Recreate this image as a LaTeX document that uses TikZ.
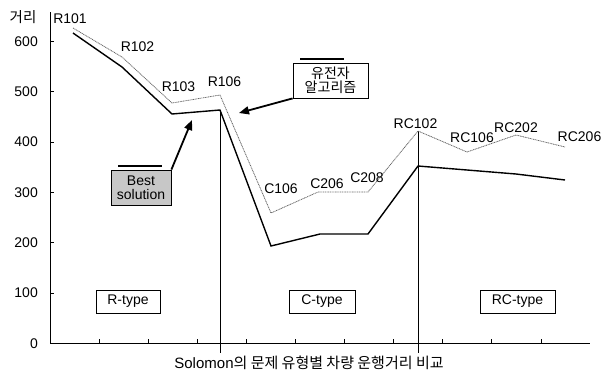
\documentclass[tikz,border=0pt]{standalone}
\usepackage{fontspec}
\setmainfont{Liberation Sans}
\newfontfamily\kr{Noto Sans CJK KR}
\usetikzlibrary{arrows.meta}
\begin{document}
\begin{tikzpicture}[x=1pt,y=-1pt,
  font=\fontsize{14}{16}\selectfont,
  axisline/.style={line width=1pt},
  divline/.style={line width=0.8pt},
  bestline/.style={line width=1.4pt, line join=miter},
  galine/.style={line width=0.8pt, draw=black!60, dash pattern=on 1pt off 0.7pt},
  typebox/.style={draw, line width=0.8pt, minimum height=23pt, inner sep=0pt},
  notebox/.style={draw, line width=0.8pt, minimum height=35pt, inner sep=0pt, align=center},
  ptlabel/.style={inner sep=0pt},
  ticklabel/.style={anchor=east, inner sep=0pt},
  bar/.style={line width=1.3pt},
  callout/.style={line width=1.8pt, -{Triangle[length=10pt,width=8pt]}}
]
\useasboundingbox (0,0) rectangle (602,378);

% axes
\coordinate (ytop) at (50,12);
\coordinate (origin) at (50,343.3);
\coordinate (xend) at (590,343.3);
\draw[axisline] (ytop) -- (origin) -- (xend);

% y ticks and labels
\foreach \v/\name in {0/t0,100/t1,200/t2,300/t3,400/t4,500/t5,600/t6}{
  \coordinate (\name) at (50,{343.3-0.503*\v});
  \draw[axisline] (\name) -- ++(4,0);
  \node[ticklabel] (\name lab) at (38,{343.3-0.503*\v}) {\v};
}
\node[inner sep=0pt] (ylabel) at (23,17) {\kr\fontsize{14.5}{16}\selectfont 거리};

% x ticks
\foreach \k in {1,...,10}{
  \coordinate (xt\k) at ({50+49.1*\k},343.3);
  \draw[axisline] (xt\k) -- ++(0,-4);
}

% data points: genetic algorithm (dotted)
\coordinate (g1) at (73,28);
\coordinate (g2) at (122,57);
\coordinate (g3) at (172,103);
\coordinate (g4) at (220,95);
\coordinate (g5) at (271,213);
\coordinate (g6) at (318,192);
\coordinate (g7) at (368,192);
\coordinate (g8) at (418,131);
\coordinate (g9) at (467,152);
\coordinate (g10) at (516,135);
\coordinate (g11) at (565,147);
% data points: best solution (solid)
\coordinate (b1) at (73,33);
\coordinate (b2) at (122,67);
\coordinate (b3) at (172,114);
\coordinate (b4) at (220,110);
\coordinate (b5) at (271,246);
\coordinate (b6) at (320,234);
\coordinate (b7) at (368,234);
\coordinate (b8) at (418,166);
\coordinate (b9) at (467,170);
\coordinate (b10) at (516,174);
\coordinate (b11) at (565,180);

% dividers
\coordinate (d1) at (220,353);
\coordinate (d2) at (418,353);
\draw[divline] (b4) -- (d1);
\draw[divline] (g8) -- (d2);

\draw[galine] (g1) -- (g2) -- (g3) -- (g4) -- (g5) -- (g6) -- (g7) -- (g8) -- (g9) -- (g10) -- (g11);
\draw[bestline] (b1) -- (b2) -- (b3) -- (b4) -- (b5) -- (b6) -- (b7) -- (b8) -- (b9) -- (b10) -- (b11);

% point labels
\node[ptlabel] (lR101) at (70,19) {R101};
\node[ptlabel] (lR102) at (137.5,47) {R102};
\node[ptlabel] (lR103) at (178.5,87) {R103};
\node[ptlabel] (lR106) at (224.5,82) {R106};
\node[ptlabel] (lC106) at (281,189) {C106};
\node[ptlabel] (lC206) at (327,184) {C206};
\node[ptlabel] (lC208) at (367,178) {C208};
\node[ptlabel] (lRC102) at (415.5,124) {RC102};
\node[ptlabel] (lRC106) at (472,138) {RC106};
\node[ptlabel] (lRC202) at (516,128) {RC202};
\node[ptlabel] (lRC206) at (579.5,137) {RC206};

% type boxes
\node[typebox, minimum width=64pt] (rtype) at (128,301.5) {R-type};
\node[typebox, minimum width=66pt] (ctype) at (322,301.5) {C-type};
\node[typebox, minimum width=75pt] (rctype) at (517.5,301.5) {RC-type};

% callout boxes
\node[notebox, minimum width=60pt, fill=black!22, font=\fontsize{14}{14}\selectfont] (best) at (141,187.5) {Best\\solution};
\node[notebox, minimum width=75pt, fill=white, font=\kr\fontsize{14}{13.5}\selectfont] (ga) at (330.5,80.5) {유전자\\알고리즘};
\draw[bar] (118,166) -- (162,166);
\draw[bar] (300,59) -- (344,59);

\coordinate (besttip) at (192,120);
\coordinate (gatip) at (239,113);
\draw[callout] (best.north east) -- (besttip);
\draw[callout] (ga.south west) -- (gatip);

% title
\node[inner sep=0pt] (title) at (309,363) {\fontsize{15}{16}\selectfont Solomon{\kr 의 문제 유형별 차량 운행거리 비교}};
\end{tikzpicture}
\end{document}
